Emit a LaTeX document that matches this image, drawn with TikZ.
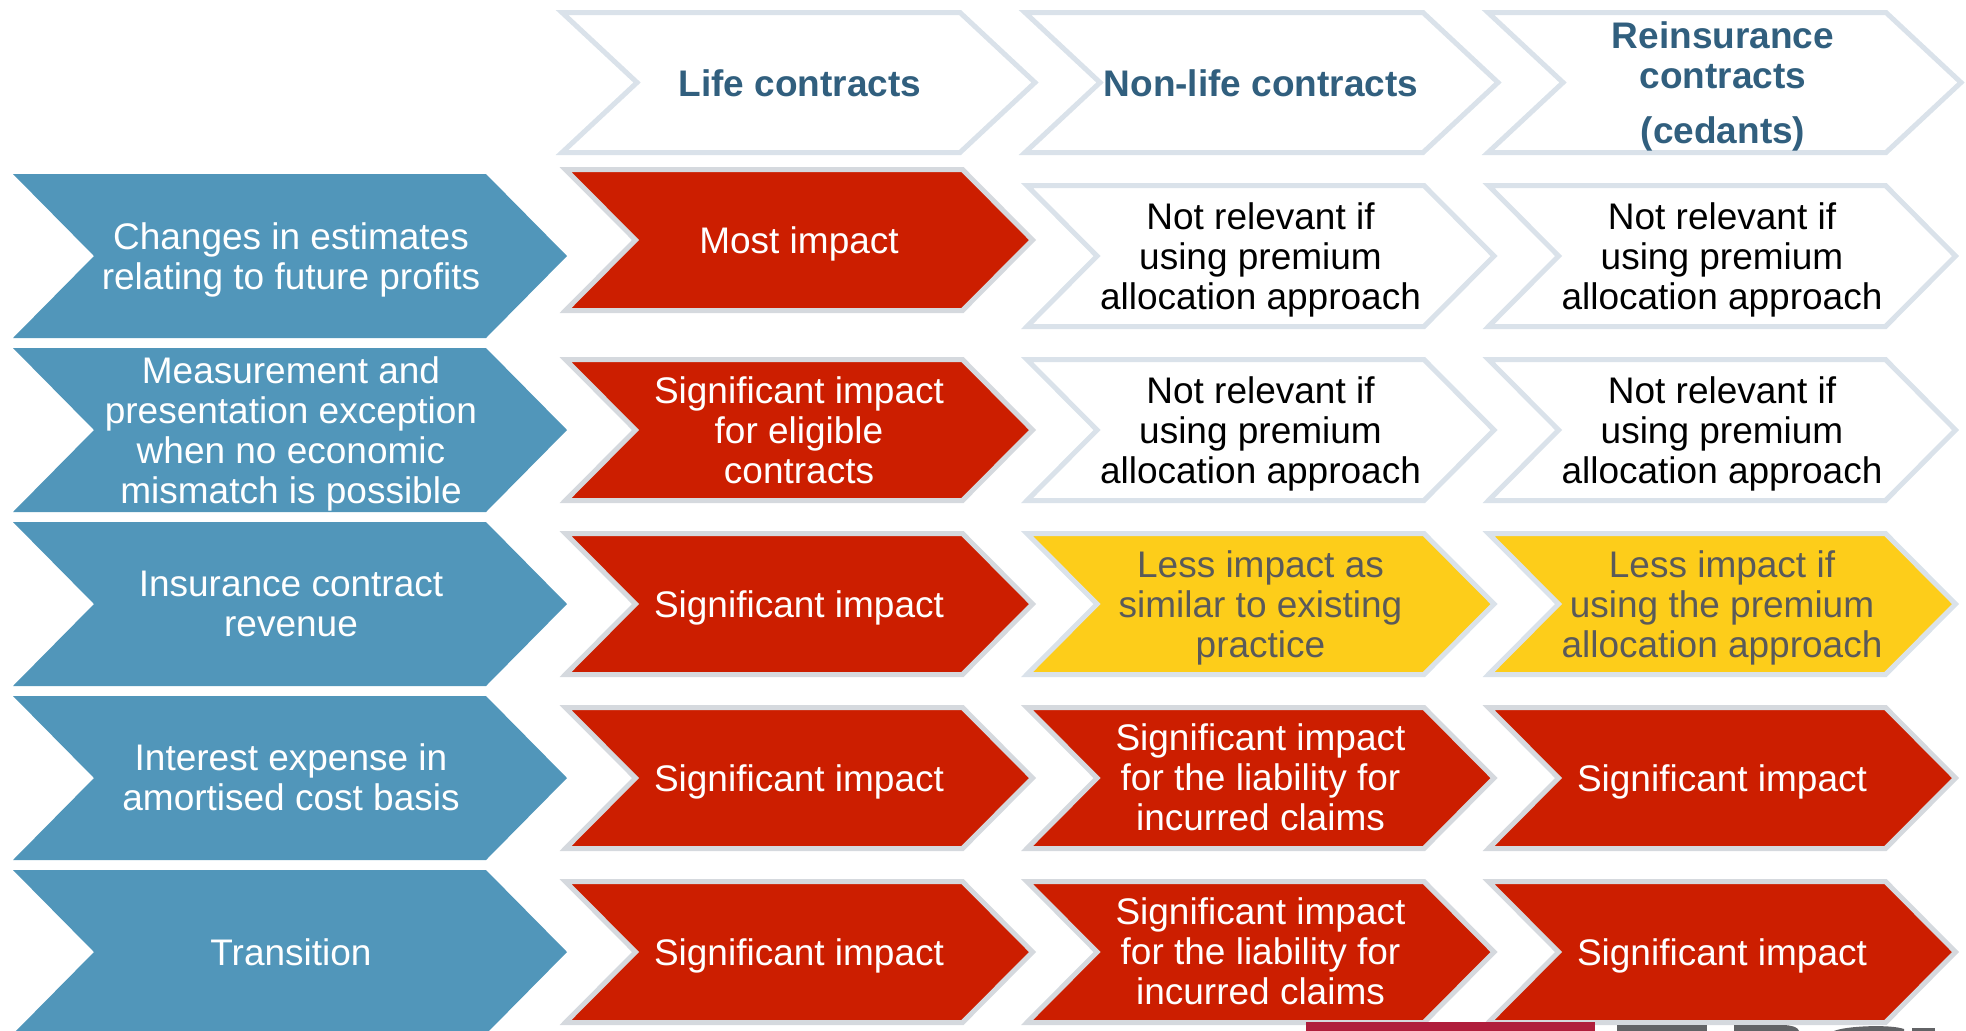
\documentclass[tikz,border=0pt]{standalone}
\usepackage{fontspec}
\setmainfont{Liberation Sans}
\definecolor{ifblue}{RGB}{81,150,186}
\definecolor{ifred}{RGB}{204,30,0}
\definecolor{ifyellow}{RGB}{253,205,26}
\definecolor{edgeblue}{RGB}{218,226,234}
\definecolor{edgegray}{RGB}{213,217,222}
\definecolor{hdrblue}{RGB}{49,95,126}
\definecolor{yeltext}{RGB}{90,90,90}
\definecolor{logored}{RGB}{176,30,60}
\definecolor{logogray}{RGB}{98,99,102}
\newcommand\mkchev[6]{\path[#1] ({#2},{#4}) -- ({#3},{#4}) -- ({#3+#6},{(#4+#5)/2}) -- ({#3},{#5}) -- ({#2},{#5}) -- ({#2+#6},{(#4+#5)/2}) -- cycle;}
\begin{document}
\begin{tikzpicture}[x=0.5pt,y=-0.5pt,
  blueshape/.style={fill=ifblue},
  redshape/.style={fill=ifred, draw=edgegray, line width=2.5pt},
  whiteshape/.style={fill=white, draw=edgeblue, line width=2.5pt},
  yellowshape/.style={fill=ifyellow, draw=edgeblue, line width=2.5pt},
  hdrshape/.style={fill=white, draw=edgeblue, line width=2.5pt},
  lbl/.style={align=center, inner sep=0pt, yshift=-1.75pt, font=\fontsize{18.5}{20}\selectfont},
  bluetxt/.style={lbl, text=white},
  redtxt/.style={lbl, text=white},
  whitetxt/.style={lbl, text=black},
  yeltxt/.style={lbl, text=yeltext},
  hdrtxt/.style={align=center, inner sep=0pt, text=hdrblue, font=\fontsize{18.5}{20}\selectfont\bfseries}]
\useasboundingbox (0,0) rectangle (1966,1030);
\clip (0,0) rectangle (1966,1030);

% header chevrons
\mkchev{hdrshape}{562}{960}{12.5}{152.5}{75}
\mkchev{hdrshape}{1025}{1423}{12.5}{152.5}{75}
\mkchev{hdrshape}{1488}{1886}{12.5}{152.5}{75}
\node[hdrtxt] (h1) at (800,83) {Life contracts};
\node[hdrtxt] (h2) at (1261,83) {Non-life contracts};
\node[hdrtxt] (h3) at (1723,86.5) {Reinsurance\\contracts\\[7.5pt](cedants)};

% blue row chevrons
\mkchev{blueshape}{13}{486}{174}{338}{81}
\mkchev{blueshape}{13}{486}{348}{512}{81}
\mkchev{blueshape}{13}{486}{522}{686}{81}
\mkchev{blueshape}{13}{486}{696}{860}{81}
\mkchev{blueshape}{13}{486}{870}{1034}{81}
\node[bluetxt] (b1) at (291,256) {Changes in estimates\\relating to future profits};
\node[bluetxt] (b2) at (291,430) {Measurement and\\presentation exception\\when no economic\\mismatch is possible};
\node[bluetxt] (b3) at (291,600) {Insurance contract\\revenue};
\node[bluetxt] (b4) at (291,774) {Interest expense in\\amortised cost basis};
\node[bluetxt] (b5) at (291,949) {Transition};

% row 1
\mkchev{redshape}{565.5}{962.5}{169.5}{310.5}{70}
\mkchev{whiteshape}{1027}{1424}{185.5}{326.5}{70}
\mkchev{whiteshape}{1488.5}{1885.5}{185.5}{326.5}{70}
\node[redtxt] (c11) at (799,240) {Most impact};
\node[whitetxt] (c12) at (1260.5,256) {Not relevant if\\using premium\\allocation approach};
\node[whitetxt] (c13) at (1722,256) {Not relevant if\\using premium\\allocation approach};

% row 2
\mkchev{redshape}{565.5}{962.5}{359.5}{500.5}{70}
\mkchev{whiteshape}{1027}{1424}{359.5}{500.5}{70}
\mkchev{whiteshape}{1488.5}{1885.5}{359.5}{500.5}{70}
\node[redtxt] (c21) at (799,427) {Significant impact\\for eligible\\contracts};
\node[whitetxt] (c22) at (1260.5,430) {Not relevant if\\using premium\\allocation approach};
\node[whitetxt] (c23) at (1722,430) {Not relevant if\\using premium\\allocation approach};

% row 3
\mkchev{redshape}{565.5}{962.5}{533.5}{674.5}{70}
\mkchev{yellowshape}{1027}{1424}{533.5}{674.5}{70}
\mkchev{yellowshape}{1488.5}{1885.5}{533.5}{674.5}{70}
\node[redtxt] (c31) at (799,604) {Significant impact};
\node[yeltxt] (c32) at (1260.5,604) {Less impact as\\similar to existing\\practice};
\node[yeltxt] (c33) at (1722,604) {Less impact if\\using the premium\\allocation approach};

% row 4
\mkchev{redshape}{565.5}{962.5}{707.5}{848.5}{70}
\mkchev{redshape}{1027}{1424}{707.5}{848.5}{70}
\mkchev{redshape}{1488.5}{1885.5}{707.5}{848.5}{70}
\node[redtxt] (c41) at (799,778) {Significant impact};
\node[redtxt] (c42) at (1260.5,774) {Significant impact\\for the liability for\\incurred claims};
\node[redtxt] (c43) at (1722,778) {Significant impact};

% row 5
\mkchev{redshape}{565.5}{962.5}{881.5}{1022.5}{70}
\mkchev{redshape}{1027}{1424}{881.5}{1022.5}{70}
\mkchev{redshape}{1488.5}{1885.5}{881.5}{1022.5}{70}
\node[redtxt] (c51) at (799,952) {Significant impact};
\node[redtxt] (c52) at (1260.5,948) {Significant impact\\for the liability for\\incurred claims};
\node[redtxt] (c53) at (1722,952) {Significant impact};

% partly visible logo at the bottom edge
\fill[logored] (1306,1022) rectangle (1595,1031);
\fill[logogray] (1617,1025) rectangle (1707,1031);
\fill[logogray] (1734,1025) -- (1785,1025) .. controls (1795,1026) and (1798,1028) .. (1799,1031) -- (1734,1031) -- cycle;
\fill[logogray] (1834,1031) .. controls (1845,1026) and (1890,1024) .. (1904,1029) -- (1904,1031) -- cycle;
\fill[logogray] (1912,1028) rectangle (1935,1031);
\end{tikzpicture}
\end{document}
